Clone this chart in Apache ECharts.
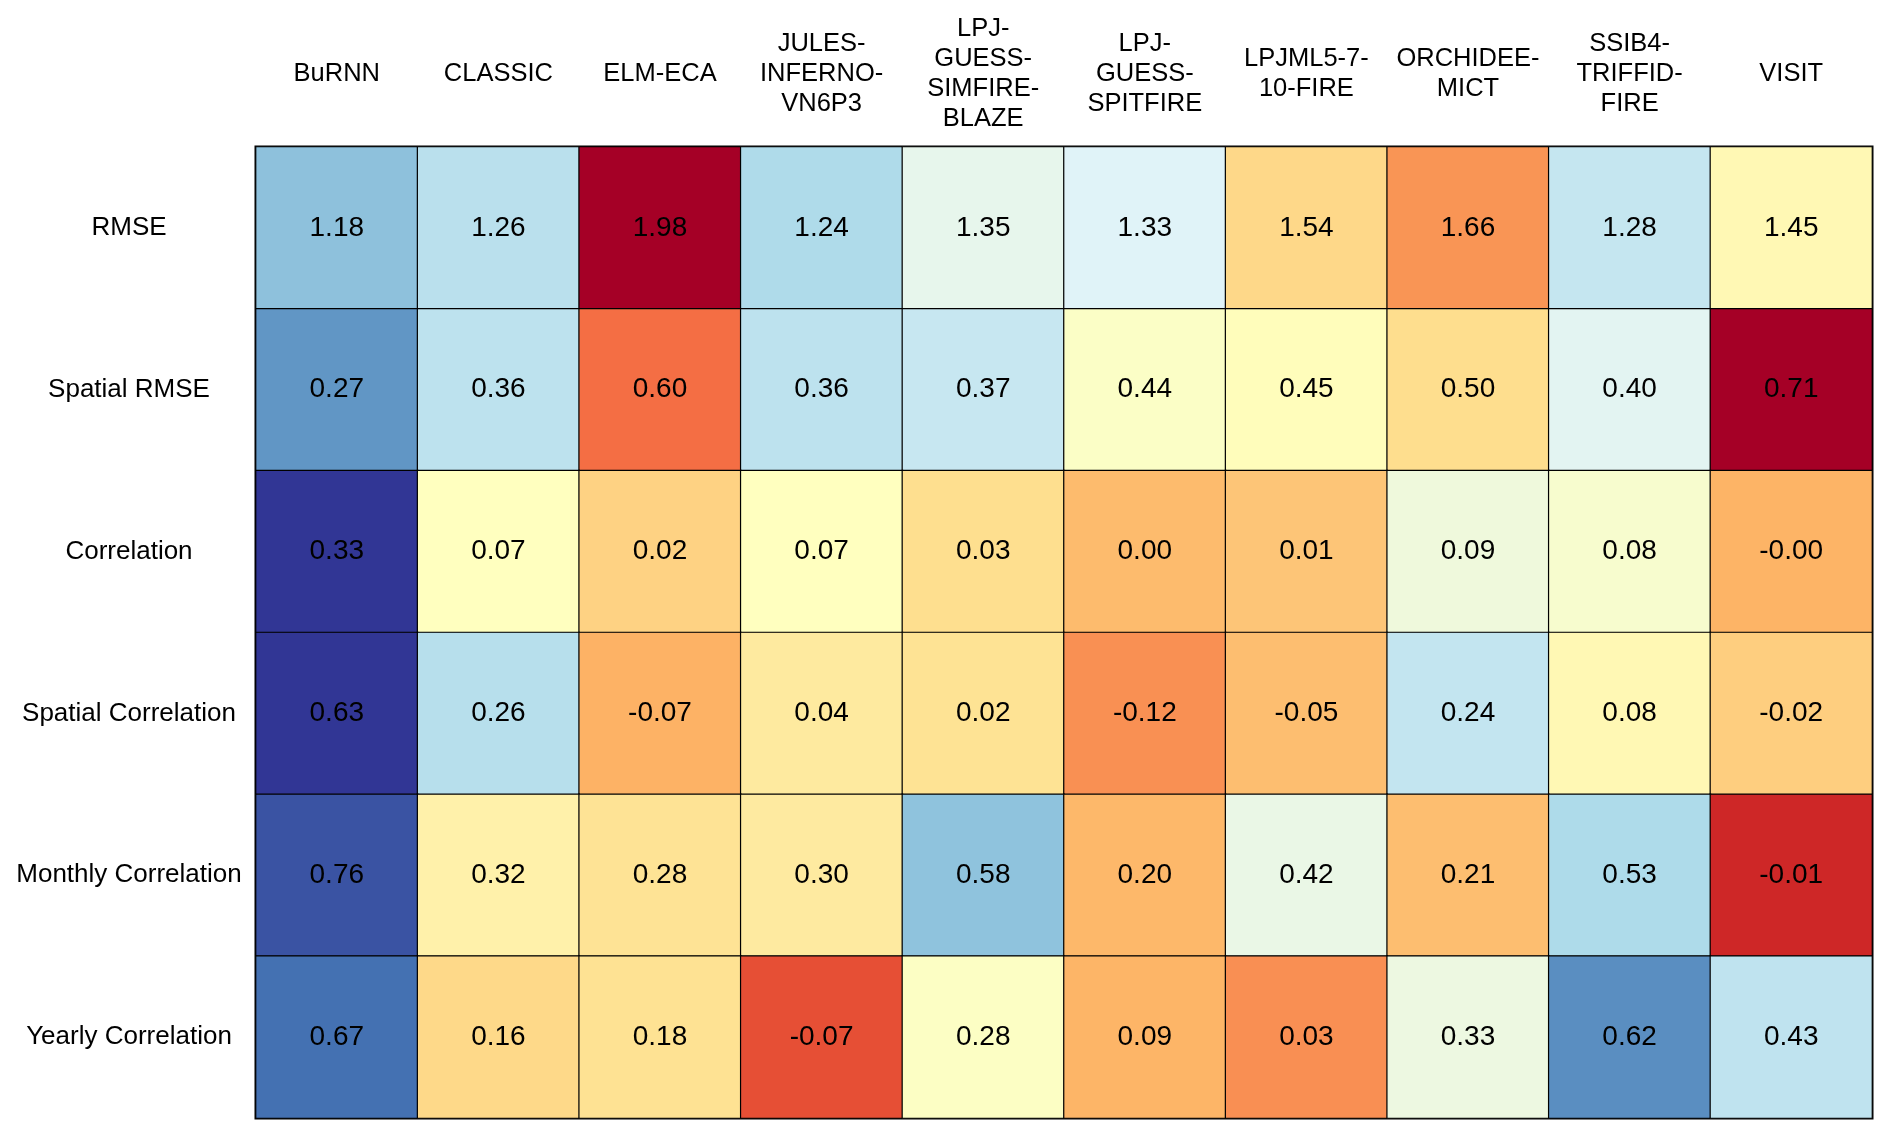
<!DOCTYPE html>
<html>
<head>
<meta charset="utf-8">
<script src="https://cdn.jsdelivr.net/npm/echarts@6/dist/echarts.min.js"></script>
<style>
html,body{margin:0;padding:0;background:#fff;}
#chart{width:1892px;height:1139px;}
</style>
</head>
<body>
<div id="chart"></div>
<script>
// Column tick labels (models)
const models = ['BuRNN', 'CLASSIC', 'ELM-ECA', 'JULES-\nINFERNO-\nVN6P3', 'LPJ-\nGUESS-\nSIMFIRE-\nBLAZE',
  'LPJ-\nGUESS-\nSPITFIRE', 'LPJML5-7-\n10-FIRE', 'ORCHIDEE-\nMICT', 'SSIB4-\nTRIFFID-\nFIRE', 'VISIT'];
// Row tick labels (metrics)
const metrics = ['RMSE', 'Spatial RMSE', 'Correlation', 'Spatial Correlation', 'Monthly Correlation', 'Yearly Correlation'];

// Values per metric row
const rmse       = [1.18, 1.26, 1.98, 1.24, 1.35, 1.33, 1.54, 1.66, 1.28, 1.45];
const spatialRmse= [0.27, 0.36, 0.60, 0.36, 0.37, 0.44, 0.45, 0.50, 0.40, 0.71];
const corr       = [0.33, 0.07, 0.02, 0.07, 0.03, 0.002, 0.01, 0.09, 0.08, -0.004];
const spatialCorr= [0.63, 0.26, -0.07, 0.04, 0.02, -0.12, -0.05, 0.24, 0.08, -0.02];
const monthlyCorr= [0.76, 0.32, 0.28, 0.30, 0.58, 0.20, 0.42, 0.21, 0.53, -0.01];
const yearlyCorr = [0.67, 0.16, 0.18, -0.07, 0.28, 0.09, 0.03, 0.33, 0.62, 0.43];

const rows = [rmse, spatialRmse, corr, spatialCorr, monthlyCorr, yearlyCorr];
const lowerIsBetter = [true, true, false, false, false, false];

// RdYlBu palette, blue -> red
const blueToRed = ['#313695','#4575b4','#74add1','#abd9e9','#e0f3f8','#ffffbf','#fee090','#fdae61','#f46d43','#d73027','#a50026'];
const redToBlue = blueToRed.slice().reverse();

const FONT = "'Liberation Sans', Arial, sans-serif";

const series = [];
const visualMaps = [];
rows.forEach((vals, r) => {
  const n = vals.length;
  const mean = vals.reduce((a, b) => a + b, 0) / n;
  const sd = Math.sqrt(vals.reduce((a, v) => a + (v - mean) * (v - mean), 0) / (n - 1));
  const lo = mean - 2 * sd, hi = mean + 2 * sd;
  visualMaps.push({
    type: 'continuous',
    show: false,
    seriesIndex: r,
    dimension: 3,
    min: lo,
    max: hi,
    inRange: { color: lowerIsBetter[r] ? blueToRed : redToBlue }
  });
  series.push({
    type: 'heatmap',
    name: metrics[r],
    // 4th dimension: value clamped to the row's colour range
    data: vals.map((v, c) => [c, r, v, Math.min(hi, Math.max(lo, v))]),
    itemStyle: { borderColor: '#000', borderWidth: 1.2 },
    label: {
      show: true,
      color: '#000',
      fontSize: 28,
      fontFamily: FONT,
      formatter: p => p.value[2].toFixed(2)
    },
    emphasis: { disabled: true }
  });
});

const chart = echarts.init(document.getElementById('chart'));
chart.setOption({
  animation: false,
  backgroundColor: '#fff',
  grid: { left: 256, right: 20, top: 147, bottom: 21, show: true, borderColor: '#000', borderWidth: 3, backgroundColor: 'transparent' },
  xAxis: {
    type: 'category',
    position: 'top',
    data: models,
    axisLine: { show: false },
    axisTick: { show: false },
    splitLine: { show: false },
    axisLabel: {
      interval: 0,
      color: '#000',
      fontSize: 25.5,
      fontFamily: FONT,
      lineHeight: 30,
      align: 'center',
      verticalAlign: 'middle',
      margin: 73
    }
  },
  yAxis: {
    type: 'category',
    inverse: true,
    data: metrics,
    axisLine: { show: false },
    axisTick: { show: false },
    splitLine: { show: false },
    axisLabel: {
      interval: 0,
      color: '#000',
      fontSize: 26,
      fontFamily: FONT,
      align: 'center',
      margin: 127
    }
  },
  visualMap: visualMaps,
  series: series
});
</script>
</body>
</html>
